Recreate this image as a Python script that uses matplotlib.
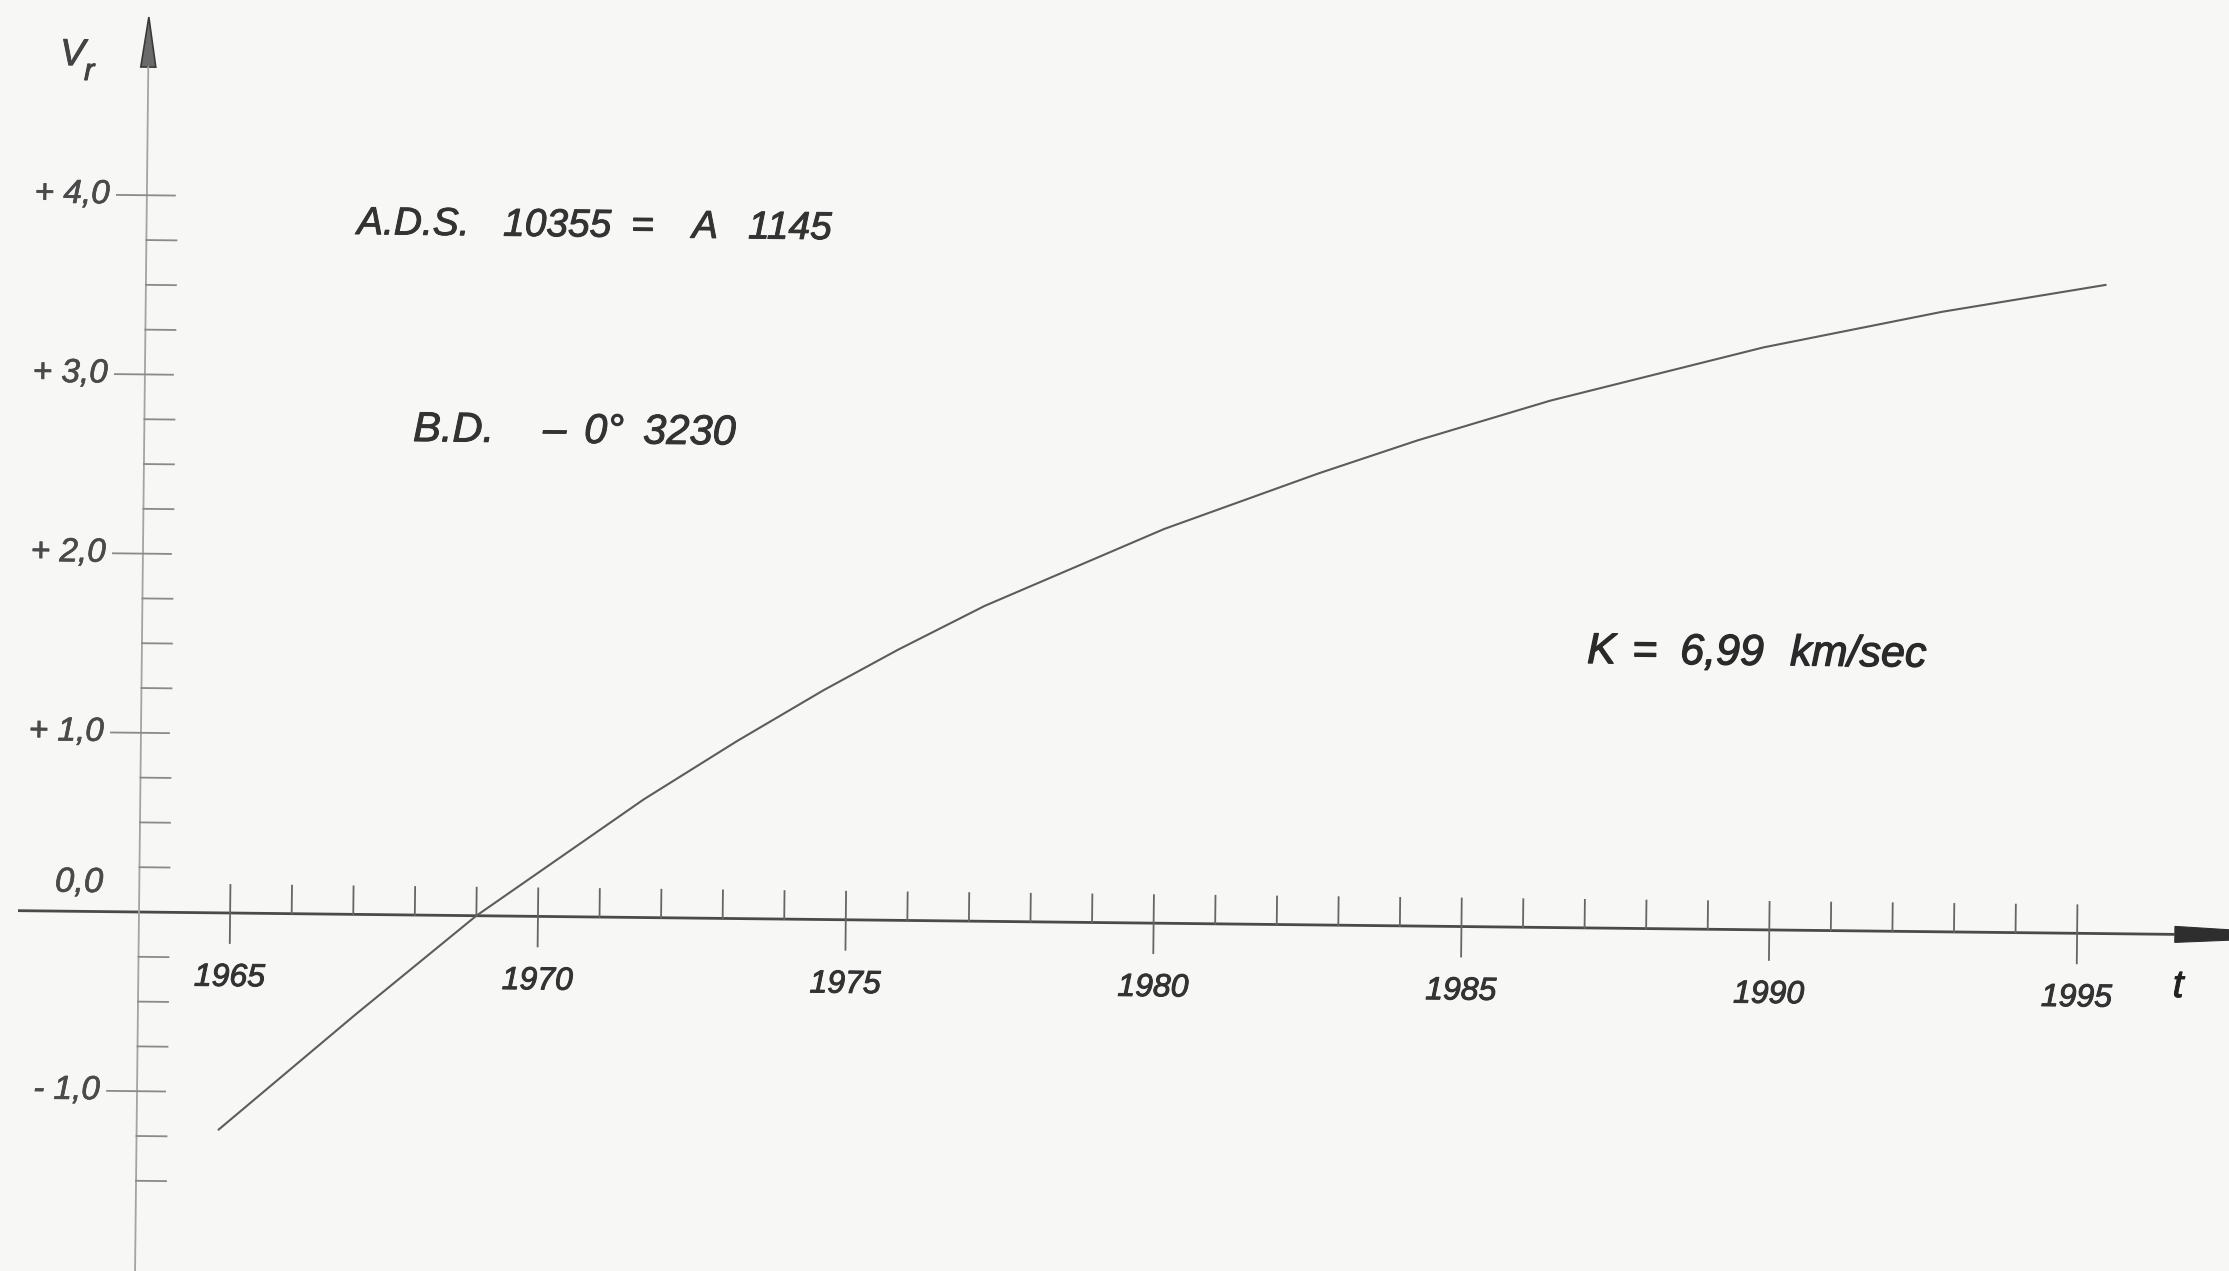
import numpy as np
import matplotlib
matplotlib.use("Agg")
import matplotlib.pyplot as plt
import matplotlib.patheffects as pe
from matplotlib.transforms import Affine2D
from matplotlib.patches import Polygon

# ---- radial velocity curve of A.D.S. 10355 ----
epochs = [1964.85, 1967.05, 1969.0, 1971.7, 1973.2, 1974.6, 1975.8, 1977.2,
          1980.1, 1982.6, 1984.2, 1986.35, 1989.8, 1992.7, 1995.35]
vr = [-1.21, -0.56, 0.0, 0.66, 0.99, 1.28, 1.51, 1.76,
      2.20, 2.52, 2.71, 2.94, 3.25, 3.46, 3.62]

year_ticks = list(range(1965, 1996))
year_labels = [1965, 1970, 1975, 1980, 1985, 1990, 1995]
v_ticks = [-1.5, -1.25, -1.0, -0.75, -0.5, -0.25, 0.25, 0.5, 0.75, 1.0, 1.25,
           1.5, 1.75, 2.0, 2.25, 2.5, 2.75, 3.0, 3.25, 3.5, 3.75, 4.0]
v_label_values = [4.0, 3.0, 2.0, 1.0, -1.0]
v_label_texts = ["+ 4,0", "+ 3,0", "+ 2,0", "+ 1,0", "- 1,0"]

# ---- page geometry (pixels) ----
W, H, DPI = 2229, 1271, 100
ORIGIN_PX = (139, 912)          # where the two axes meet
T0 = 1963.52                     # epoch at the vertical axis
PX_YEAR = 61.57
PX_UNIT = 179.2
ANGLE = -0.63                    # the drawing sits slightly turned on the page

BG = "#f7f7f6"
INK = "#333333"
FONT = ["Liberation Sans", "DejaVu Sans"]


def yrs(px):
    return px / PX_YEAR


def units(px):
    return px / PX_UNIT


def pen(color, width=0.7):
    # pen-drawn lettering is a touch heavier than the plain font
    return [pe.withStroke(linewidth=width, foreground=color)]


fig = plt.figure(figsize=(W / DPI, H / DPI), dpi=DPI, facecolor=BG)
ax = fig.add_axes([0, 0, 1, 1])
ax.set_facecolor(BG)
ax.set_xlim(T0 - yrs(ORIGIN_PX[0]), T0 + yrs(W - ORIGIN_PX[0]))
ax.set_ylim(-units(H - ORIGIN_PX[1]), units(ORIGIN_PX[1]))
ax.axis("off")

rot = Affine2D().rotate_deg_around(ORIGIN_PX[0], H - ORIGIN_PX[1], ANGLE)
tr = ax.transData + rot

# ---- time axis with arrow ----
x_left = T0 - yrs(121)
x_arrow_base = T0 + yrs(2175 - ORIGIN_PX[0])
x_arrow_tip = T0 + yrs(2330 - ORIGIN_PX[0])
ax.plot([x_left, x_arrow_base], [0, 0], color="#4a4a4a", lw=2.0,
        solid_capstyle="butt", transform=tr)
ax.add_patch(Polygon([(x_arrow_base, -units(8)), (x_arrow_base, units(8)),
                      (x_arrow_tip, 0)], closed=True, facecolor="#2e2e2e",
                     edgecolor="#2e2e2e", lw=0.8, transform=tr))

# ---- velocity axis with arrow ----
v_bottom = -units(H - ORIGIN_PX[1]) - 0.3
v_arrow_base = units(ORIGIN_PX[1] - 67)
v_arrow_tip = units(ORIGIN_PX[1] - 17)
ax.plot([T0, T0], [v_bottom, v_arrow_base], color="#a4a4a4", lw=1.3,
        transform=tr)
ax.add_patch(Polygon([(T0 - yrs(7.5), v_arrow_base), (T0 + yrs(7.5), v_arrow_base),
                      (T0, v_arrow_tip)], closed=True, facecolor="#6a6a6a",
                     edgecolor="#3a3a3a", lw=1.2, transform=tr))

# ---- ticks on the time axis ----
for y in year_ticks:
    lo = -units(30) if y in year_labels else 0.0
    ax.plot([y, y], [lo, units(28)], color="#666666", lw=1.3, transform=tr)
for y in year_labels:
    ax.text(y, -units(65), str(y), transform=tr, ha="center", va="center",
            fontsize=23, family=FONT, style="italic", color=INK,
            rotation=ANGLE, rotation_mode="anchor", path_effects=pen(INK))

# ---- ticks on the velocity axis ----
for v in v_ticks:
    if v in v_label_values:
        ax.plot([T0 - yrs(30), T0 + yrs(28)], [v, v], color="#8a8a8a", lw=1.3,
                transform=tr)
    else:
        ax.plot([T0, T0 + yrs(30)], [v, v], color="#8a8a8a", lw=1.3,
                transform=tr)
LABEL_GREY = "#4a4a4a"
for v, s in zip(v_label_values, v_label_texts):
    ax.text(T0 - yrs(37), v, s, transform=tr, ha="right", va="center",
            fontsize=24, family=FONT, style="italic", color=LABEL_GREY,
            rotation=ANGLE, rotation_mode="anchor",
            path_effects=pen(LABEL_GREY, 0.5))
ax.text(T0 - yrs(36), units(29), "0,0", transform=tr, ha="right", va="center",
        fontsize=25, family=FONT, style="italic", color=LABEL_GREY,
        rotation=ANGLE, rotation_mode="anchor", path_effects=pen(LABEL_GREY, 0.5))

# ---- the curve ----
ax.plot(epochs, vr, color="#5c5c5c", lw=1.5, solid_capstyle="round",
        solid_joinstyle="round", transform=tr)


# ---- lettering ----
def put(x, y, s, size, color=INK, width=0.7, ha="left"):
    fig.text(x / W, 1 - y / H, s, fontsize=size, color=color, family=FONT,
             style="italic", rotation=ANGLE, rotation_mode="anchor",
             ha=ha, va="baseline", path_effects=pen(color, width))


put(60, 65, "V", 27, "#444444")
put(84, 80, "r", 22, "#444444")
put(2178, 997, "t", 28, "#222222", ha="center")

for x, s in [(357, "A.D.S."), (503, "10355"), (631, "="), (692, "A"), (748, "1145")]:
    put(x, 234 + 0.011 * (x - 357), s, 28)

for x, s in [(413, "B.D."), (543, "\u2013"), (584, "0\u00b0"), (643, "3230")]:
    put(x, 441 + 0.011 * (x - 413), s, 30)

for x, s in [(1587, "K"), (1632, "="), (1680, "6,99"), (1790, "km/sec")]:
    put(x, 663 + 0.011 * (x - 1587), s, 31, "#2a2a2a", 0.9)

fig.savefig("out.png", dpi=DPI, facecolor=BG)
